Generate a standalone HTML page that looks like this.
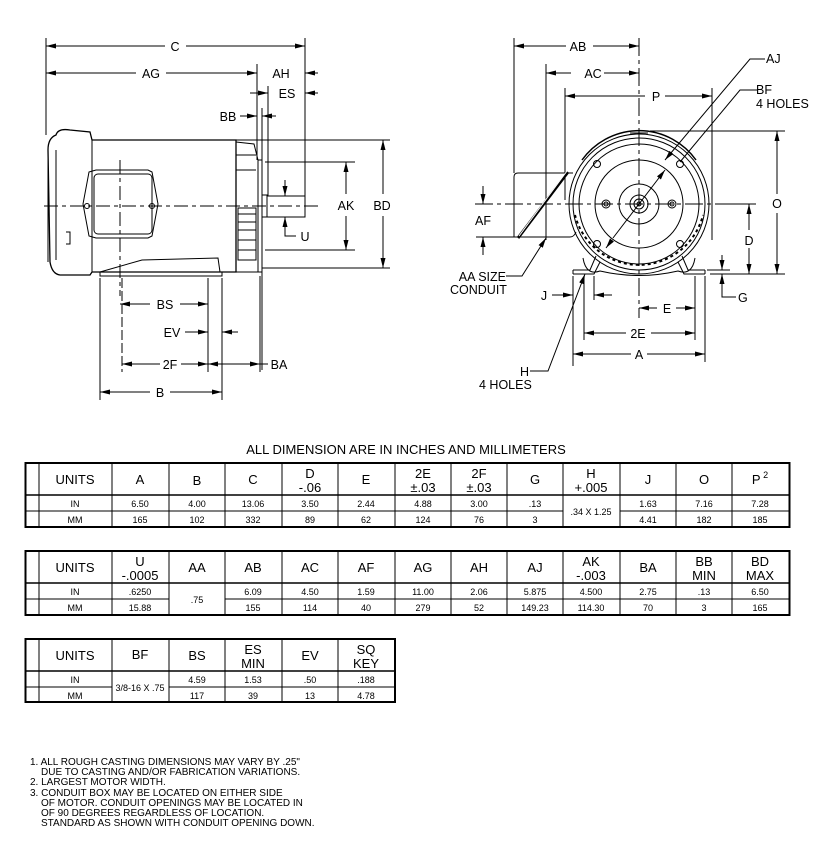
<!DOCTYPE html>
<html><head><meta charset="utf-8"><style>
html,body{margin:0;padding:0;background:#fff;}
svg{display:block;font-family:"Liberation Sans",Arial,sans-serif;}
.d{stroke:#000;stroke-width:1;fill:none}
.t{font-size:12.5px;fill:#000}
.th{font-size:13px;text-anchor:middle;fill:#000}
.td{font-size:9px;text-anchor:middle;fill:#000}
.n{font-size:10px;fill:#000}
</style></head><body>
<svg width="826" height="847" viewBox="0 0 826 847" xmlns="http://www.w3.org/2000/svg">
<defs>
<marker id="a" viewBox="0 0 10 6" refX="10" refY="3" markerWidth="10" markerHeight="6" markerUnits="userSpaceOnUse" orient="auto-start-reverse"><path d="M0,0.5L10,3L0,5.5z" fill="#000"/></marker>
</defs>
<rect width="826" height="847" fill="#fff"/>

<!-- ============ LEFT VIEW ============ -->
<g class="d">
<line x1="46" y1="38" x2="46" y2="135"/>
<line x1="305" y1="38" x2="305" y2="196"/>
<line x1="257" y1="64" x2="257" y2="160"/>
<line x1="262" y1="108" x2="262" y2="370"/>
<line x1="268" y1="86" x2="268" y2="196"/>
<line x1="46" y1="46" x2="165" y2="46" marker-start="url(#a)"/>
<line x1="186" y1="46" x2="305" y2="46" marker-end="url(#a)"/>
<line x1="46" y1="73" x2="136" y2="73" marker-start="url(#a)"/>
<line x1="166" y1="73" x2="257" y2="73" marker-end="url(#a)"/>
<line x1="318" y1="73" x2="305" y2="73" marker-end="url(#a)"/>
<line x1="250" y1="93" x2="268" y2="93" marker-end="url(#a)"/>
<line x1="318" y1="93" x2="305" y2="93" marker-end="url(#a)"/>
<line x1="240" y1="116" x2="257" y2="116" marker-end="url(#a)"/>
<line x1="276" y1="116" x2="262" y2="116" marker-end="url(#a)"/>
<line x1="265" y1="162" x2="355" y2="162"/>
<line x1="265" y1="250" x2="355" y2="250"/>
<line x1="346" y1="194" x2="346" y2="162" marker-end="url(#a)"/>
<line x1="346" y1="216" x2="346" y2="250" marker-end="url(#a)"/>
<line x1="230" y1="140" x2="390" y2="140"/>
<line x1="262" y1="268" x2="390" y2="268"/>
<line x1="383" y1="194" x2="383" y2="140" marker-end="url(#a)"/>
<line x1="383" y1="216" x2="383" y2="268" marker-end="url(#a)"/>
<line x1="285" y1="180" x2="285" y2="196" marker-end="url(#a)"/>
<polyline points="285,233 285,217" marker-end="url(#a)"/>
<polyline points="285,218 285,236 296,236"/>

<path d="M56,135 Q58,128 70,130 L90,132 L92,140 L236,140 L236,272 L92,272 L90,275 L60,275 Q52,274 50,262 L48,150 Q48,138 56,135z" stroke-width="1.3"/>
<line x1="92" y1="140" x2="92" y2="272"/>
<line x1="48" y1="150" x2="48" y2="262"/>
<path d="M56,150 L56,260"/>
<path d="M66,232 L70,232 L70,244 L66,244"/>
<path d="M89,172 L96,170 L148,170 L152,172 L158,204 L152,236 L148,238 L96,238 L89,236 L83,204z"/>
<rect x="94" y="174" width="58" height="60" rx="4"/>
<circle cx="87" cy="206" r="2.5"/><circle cx="152" cy="206" r="2.5"/>
<path d="M236,142 L254,144 L258,160 L258,272 L236,272"/>
<line x1="236" y1="155" x2="256" y2="155"/>
<line x1="236" y1="170" x2="256" y2="170"/>
<rect x="238" y="208" width="18" height="52"/>
<line x1="238" y1="214" x2="256" y2="214"/><line x1="238" y1="222" x2="256" y2="222"/>
<line x1="238" y1="230" x2="256" y2="230"/><line x1="238" y1="240" x2="256" y2="240"/>
<line x1="238" y1="250" x2="256" y2="250"/>
<rect x="258" y="160" width="4" height="112"/>
<rect x="262" y="195" width="5" height="22"/>
<rect x="267" y="196" width="38" height="21"/>
<path d="M100,272 L142,260 L218,258 L220,272"/>
<rect x="100" y="272" width="122" height="4"/>
<line x1="44" y1="206" x2="320" y2="206" stroke-dasharray="14,4,4,4"/>
<line x1="120" y1="160" x2="120" y2="296" stroke-dasharray="14,4,4,4"/>
<line x1="100" y1="278" x2="100" y2="400"/>
<line x1="122" y1="278" x2="122" y2="372" stroke-dasharray="10,3"/>
<line x1="208" y1="278" x2="208" y2="372"/>
<line x1="222" y1="278" x2="222" y2="400"/>
<line x1="260" y1="276" x2="260" y2="372"/>
<line x1="150" y1="304" x2="120" y2="304" marker-end="url(#a)"/>
<line x1="180" y1="304" x2="208" y2="304" marker-end="url(#a)"/>
<line x1="185" y1="332" x2="208" y2="332" marker-end="url(#a)"/>
<line x1="238" y1="332" x2="222" y2="332" marker-end="url(#a)"/>
<line x1="160" y1="364" x2="122" y2="364" marker-end="url(#a)"/>
<line x1="181" y1="364" x2="208" y2="364" marker-end="url(#a)"/>
<line x1="208" y1="364" x2="260" y2="364" marker-end="url(#a)" marker-start="url(#a)"/>
<line x1="260" y1="364" x2="268" y2="364"/>
<line x1="150" y1="392" x2="100" y2="392" marker-end="url(#a)"/>
<line x1="170" y1="392" x2="222" y2="392" marker-end="url(#a)"/>
</g>
<g class="t" text-anchor="middle">
<text x="175" y="51">C</text>
<text x="151" y="78">AG</text>
<text x="281" y="78">AH</text>
<text x="287" y="98">ES</text>
<text x="228" y="121">BB</text>
<text x="346" y="210">AK</text>
<text x="382" y="210">BD</text>
<text x="305" y="241">U</text>
<text x="165" y="309">BS</text>
<text x="172" y="337">EV</text>
<text x="170" y="369">2F</text>
<text x="279" y="369">BA</text>
<text x="160" y="397">B</text>
</g>

<!-- ============ RIGHT VIEW ============ -->
<g class="d">
<line x1="514" y1="38" x2="514" y2="173"/>
<line x1="546" y1="64" x2="546" y2="240"/>
<line x1="565" y1="88" x2="565" y2="200"/>
<line x1="712" y1="88" x2="712" y2="240"/>
<line x1="639" y1="38" x2="639" y2="318" stroke-dasharray="18,4,4,4"/>
<line x1="475" y1="204" x2="720" y2="204" stroke-dasharray="18,4,4,4"/>
<line x1="566" y1="46" x2="514" y2="46" marker-end="url(#a)"/>
<line x1="593" y1="46" x2="639" y2="46" marker-end="url(#a)"/>
<line x1="571" y1="73" x2="546" y2="73" marker-end="url(#a)"/>
<line x1="604" y1="73" x2="639" y2="73" marker-end="url(#a)"/>
<line x1="645" y1="96" x2="565" y2="96" marker-end="url(#a)"/>
<line x1="665" y1="96" x2="712" y2="96" marker-end="url(#a)"/>
<path d="M573,173 L518,173 Q514,173 514,177 L514,237 L570,237 Q574,237 576,232"/>
<line x1="518" y1="238" x2="568" y2="172" stroke-width="3"/>
<line x1="519" y1="236" x2="567" y2="171" stroke="#fff" stroke-width="1"/>
<circle cx="639" cy="204" r="70"/>
<circle cx="639" cy="204" r="66"/>
<circle cx="639" cy="204" r="60"/>
<circle cx="639" cy="204" r="44"/>
<circle cx="639" cy="204" r="20"/>
<circle cx="639" cy="204" r="9"/>
<circle cx="639" cy="204" r="5"/>
<circle cx="639" cy="204" r="2"/>
<circle cx="606" cy="204" r="4"/><circle cx="606" cy="204" r="2"/>
<circle cx="672" cy="204" r="4"/><circle cx="672" cy="204" r="2"/>
<circle cx="597" cy="164" r="3.5"/><circle cx="680" cy="164" r="3.5"/>
<circle cx="597" cy="244" r="3.5"/><circle cx="680" cy="244" r="3.5"/>
<path d="M575,215 A66,66 0 0 0 703,215" stroke-width="2" stroke-dasharray="3,3"/>
<path d="M582,160 A70,70 0 0 1 696,160" stroke-width="1.5"/>
<line x1="630" y1="133" x2="648" y2="133"/>
<path d="M583,258 Q586,276 600,271 Q639,280 678,271 Q692,276 695,258"/>
<path d="M573,270 L590,270 L596,256"/>
<path d="M573,274 L594,274 L600,262"/>
<path d="M705,270 L688,270 L682,256"/>
<path d="M705,274 L684,274 L678,262"/>
<line x1="573" y1="270" x2="573" y2="274"/><line x1="705" y1="270" x2="705" y2="274"/>
<line x1="650" y1="131" x2="785" y2="131"/>
<line x1="710" y1="274" x2="785" y2="274"/>
<line x1="777" y1="194" x2="777" y2="131" marker-end="url(#a)"/>
<line x1="777" y1="213" x2="777" y2="274" marker-end="url(#a)"/>
<line x1="720" y1="204" x2="756" y2="204"/>
<line x1="749" y1="230" x2="749" y2="204" marker-end="url(#a)"/>
<line x1="749" y1="248" x2="749" y2="274" marker-end="url(#a)"/>
<line x1="707" y1="270" x2="730" y2="270"/>
<line x1="722" y1="255" x2="722" y2="270" marker-end="url(#a)"/>
<line x1="722" y1="290" x2="722" y2="274" marker-end="url(#a)"/>
<polyline points="722,274 722,297 736,297"/>
<line x1="476" y1="204" x2="490" y2="204"/>
<line x1="476" y1="237" x2="514" y2="237"/>
<line x1="483" y1="186" x2="483" y2="204" marker-end="url(#a)"/>
<line x1="483" y1="255" x2="483" y2="237" marker-end="url(#a)"/>
<polyline points="506,276 522,276 546,238" marker-end="url(#a)"/>
<polyline points="765,59 750,59 665,160" marker-end="url(#a)"/>
<polyline points="757,90 740,90 680,162"/>
<line x1="613" y1="238" x2="665" y2="170" marker-end="url(#a)"/>
<line x1="612" y1="240" x2="606" y2="248" marker-end="url(#a)"/>
<line x1="573" y1="276" x2="573" y2="366"/>
<line x1="594" y1="276" x2="594" y2="300"/>
<line x1="552" y1="295" x2="573" y2="295" marker-end="url(#a)"/>
<line x1="612" y1="295" x2="594" y2="295" marker-end="url(#a)"/>
<polyline points="530,371 548,371 585,274" marker-end="url(#a)"/>
<line x1="584" y1="276" x2="584" y2="340"/>
<line x1="695" y1="276" x2="695" y2="340"/>
<line x1="705" y1="276" x2="705" y2="362"/>
<line x1="657" y1="308" x2="639" y2="308" marker-end="url(#a)"/>
<line x1="676" y1="308" x2="695" y2="308" marker-end="url(#a)"/>
<line x1="626" y1="333" x2="584" y2="333" marker-end="url(#a)"/>
<line x1="651" y1="333" x2="695" y2="333" marker-end="url(#a)"/>
<line x1="631" y1="354" x2="573" y2="354" marker-end="url(#a)"/>
<line x1="647" y1="354" x2="705" y2="354" marker-end="url(#a)"/>
</g>
<g class="t">
<text x="578" y="51" text-anchor="middle">AB</text>
<text x="593" y="78" text-anchor="middle">AC</text>
<text x="656" y="101" text-anchor="middle">P</text>
<text x="766" y="63">AJ</text>
<text x="756" y="94">BF</text>
<text x="756" y="108">4 HOLES</text>
<text x="777" y="208" text-anchor="middle">O</text>
<text x="749" y="245" text-anchor="middle">D</text>
<text x="738" y="302">G</text>
<text x="483" y="225" text-anchor="middle">AF</text>
<text x="506" y="281" text-anchor="end">AA SIZE</text>
<text x="450" y="294">CONDUIT</text>
<text x="544" y="300" text-anchor="middle">J</text>
<text x="667" y="313" text-anchor="middle">E</text>
<text x="638" y="338" text-anchor="middle">2E</text>
<text x="639" y="359" text-anchor="middle">A</text>
<text x="529" y="376" text-anchor="end">H</text>
<text x="479" y="389">4 HOLES</text>
</g>

<text x="406" y="454" text-anchor="middle" style="font-size:13px">ALL DIMENSION ARE IN INCHES AND MILLIMETERS</text>

<g class="d">
<rect x="25.5" y="463" width="764" height="64" stroke-width="2"/>
<line x1="39" y1="463" x2="39" y2="527"/>
<line x1="26" y1="495" x2="789" y2="495" stroke-width="1.5"/>
<line x1="26" y1="511" x2="563" y2="511"/>
<line x1="620" y1="511" x2="789" y2="511"/>
<line x1="112" y1="463" x2="112" y2="527"/><line x1="169" y1="463" x2="169" y2="527"/>
<line x1="225" y1="463" x2="225" y2="527"/><line x1="282" y1="463" x2="282" y2="527"/>
<line x1="338" y1="463" x2="338" y2="527"/><line x1="395" y1="463" x2="395" y2="527"/>
<line x1="451" y1="463" x2="451" y2="527"/><line x1="507" y1="463" x2="507" y2="527"/>
<line x1="563" y1="463" x2="563" y2="527"/><line x1="620" y1="463" x2="620" y2="527"/>
<line x1="676" y1="463" x2="676" y2="527"/><line x1="732" y1="463" x2="732" y2="527"/>
</g>
<g class="th">
<text x="75" y="484">UNITS</text><text x="140" y="484">A</text><text x="197" y="485">B</text>
<text x="253" y="484">C</text><text x="310" y="478">D</text><text x="310" y="492">-.06</text>
<text x="366" y="484">E</text><text x="423" y="478">2E</text><text x="423" y="492">±.03</text>
<text x="479" y="478">2F</text><text x="479" y="492">±.03</text><text x="535" y="484">G</text>
<text x="591" y="478">H</text><text x="591" y="492">+.005</text><text x="648" y="484">J</text>
<text x="704" y="484">O</text><text x="760" y="484">P<tspan dy="-6" style="font-size:9px"> 2</tspan></text>
</g>
<g class="td">
<text x="75" y="507">IN</text><text x="75" y="523">MM</text>
<text x="140" y="507">6.50</text><text x="140" y="523">165</text>
<text x="197" y="507">4.00</text><text x="197" y="523">102</text>
<text x="253" y="507">13.06</text><text x="253" y="523">332</text>
<text x="310" y="507">3.50</text><text x="310" y="523">89</text>
<text x="366" y="507">2.44</text><text x="366" y="523">62</text>
<text x="423" y="507">4.88</text><text x="423" y="523">124</text>
<text x="479" y="507">3.00</text><text x="479" y="523">76</text>
<text x="535" y="507">.13</text><text x="535" y="523">3</text>
<text x="591" y="515">.34 X 1.25</text>
<text x="648" y="507">1.63</text><text x="648" y="523">4.41</text>
<text x="704" y="507">7.16</text><text x="704" y="523">182</text>
<text x="760" y="507">7.28</text><text x="760" y="523">185</text>
</g>

<g class="d">
<rect x="25.5" y="551" width="764" height="64" stroke-width="2"/>
<line x1="39" y1="551" x2="39" y2="615"/>
<line x1="26" y1="583" x2="789" y2="583" stroke-width="1.5"/>
<line x1="26" y1="599" x2="169" y2="599"/>
<line x1="225" y1="599" x2="789" y2="599"/>
<line x1="112" y1="551" x2="112" y2="615"/><line x1="169" y1="551" x2="169" y2="615"/>
<line x1="225" y1="551" x2="225" y2="615"/><line x1="282" y1="551" x2="282" y2="615"/>
<line x1="338" y1="551" x2="338" y2="615"/><line x1="395" y1="551" x2="395" y2="615"/>
<line x1="451" y1="551" x2="451" y2="615"/><line x1="507" y1="551" x2="507" y2="615"/>
<line x1="563" y1="551" x2="563" y2="615"/><line x1="620" y1="551" x2="620" y2="615"/>
<line x1="676" y1="551" x2="676" y2="615"/><line x1="732" y1="551" x2="732" y2="615"/>
</g>
<g class="th">
<text x="75" y="572">UNITS</text><text x="140" y="566">U</text><text x="140" y="580">-.0005</text>
<text x="197" y="572">AA</text><text x="253" y="572">AB</text><text x="310" y="572">AC</text>
<text x="366" y="572">AF</text><text x="423" y="572">AG</text><text x="479" y="572">AH</text>
<text x="535" y="572">AJ</text><text x="591" y="566">AK</text><text x="591" y="580">-.003</text>
<text x="648" y="572">BA</text><text x="704" y="566">BB</text><text x="704" y="580">MIN</text>
<text x="760" y="566">BD</text><text x="760" y="580">MAX</text>
</g>
<g class="td">
<text x="75" y="595">IN</text><text x="75" y="611">MM</text>
<text x="140" y="595">.6250</text><text x="140" y="611">15.88</text>
<text x="197" y="603">.75</text>
<text x="253" y="595">6.09</text><text x="253" y="611">155</text>
<text x="310" y="595">4.50</text><text x="310" y="611">114</text>
<text x="366" y="595">1.59</text><text x="366" y="611">40</text>
<text x="423" y="595">11.00</text><text x="423" y="611">279</text>
<text x="479" y="595">2.06</text><text x="479" y="611">52</text>
<text x="535" y="595">5.875</text><text x="535" y="611">149.23</text>
<text x="591" y="595">4.500</text><text x="591" y="611">114.30</text>
<text x="648" y="595">2.75</text><text x="648" y="611">70</text>
<text x="704" y="595">.13</text><text x="704" y="611">3</text>
<text x="760" y="595">6.50</text><text x="760" y="611">165</text>
</g>

<g class="d">
<rect x="25.5" y="639" width="369.5" height="63" stroke-width="2"/>
<line x1="39" y1="639" x2="39" y2="702"/>
<line x1="26" y1="671" x2="395" y2="671" stroke-width="1.5"/>
<line x1="26" y1="687" x2="112" y2="687"/>
<line x1="169" y1="687" x2="395" y2="687"/>
<line x1="112" y1="639" x2="112" y2="702"/><line x1="169" y1="639" x2="169" y2="702"/>
<line x1="225" y1="639" x2="225" y2="702"/><line x1="282" y1="639" x2="282" y2="702"/>
<line x1="338" y1="639" x2="338" y2="702"/>
</g>
<g class="th">
<text x="75" y="660">UNITS</text><text x="140" y="659">BF</text><text x="197" y="660">BS</text>
<text x="253" y="654">ES</text><text x="253" y="668">MIN</text><text x="310" y="660">EV</text>
<text x="366" y="654">SQ</text><text x="366" y="668">KEY</text>
</g>
<g class="td">
<text x="75" y="683">IN</text><text x="75" y="699">MM</text>
<text x="140" y="691">3/8-16 X .75</text>
<text x="197" y="683">4.59</text><text x="197" y="699">117</text>
<text x="253" y="683">1.53</text><text x="253" y="699">39</text>
<text x="310" y="683">.50</text><text x="310" y="699">13</text>
<text x="366" y="683">.188</text><text x="366" y="699">4.78</text>
</g>

<g class="n">
<text x="30" y="765">1. ALL ROUGH CASTING DIMENSIONS MAY VARY BY .25"</text>
<text x="41" y="775">DUE TO CASTING AND/OR FABRICATION VARIATIONS.</text>
<text x="30" y="785">2. LARGEST MOTOR WIDTH.</text>
<text x="30" y="796">3. CONDUIT BOX MAY BE LOCATED ON EITHER SIDE</text>
<text x="41" y="806">OF MOTOR. CONDUIT OPENINGS MAY BE LOCATED IN</text>
<text x="41" y="816">OF 90 DEGREES REGARDLESS OF LOCATION.</text>
<text x="41" y="826">STANDARD AS SHOWN WITH CONDUIT OPENING DOWN.</text>
</g>
</svg>
</body></html>
